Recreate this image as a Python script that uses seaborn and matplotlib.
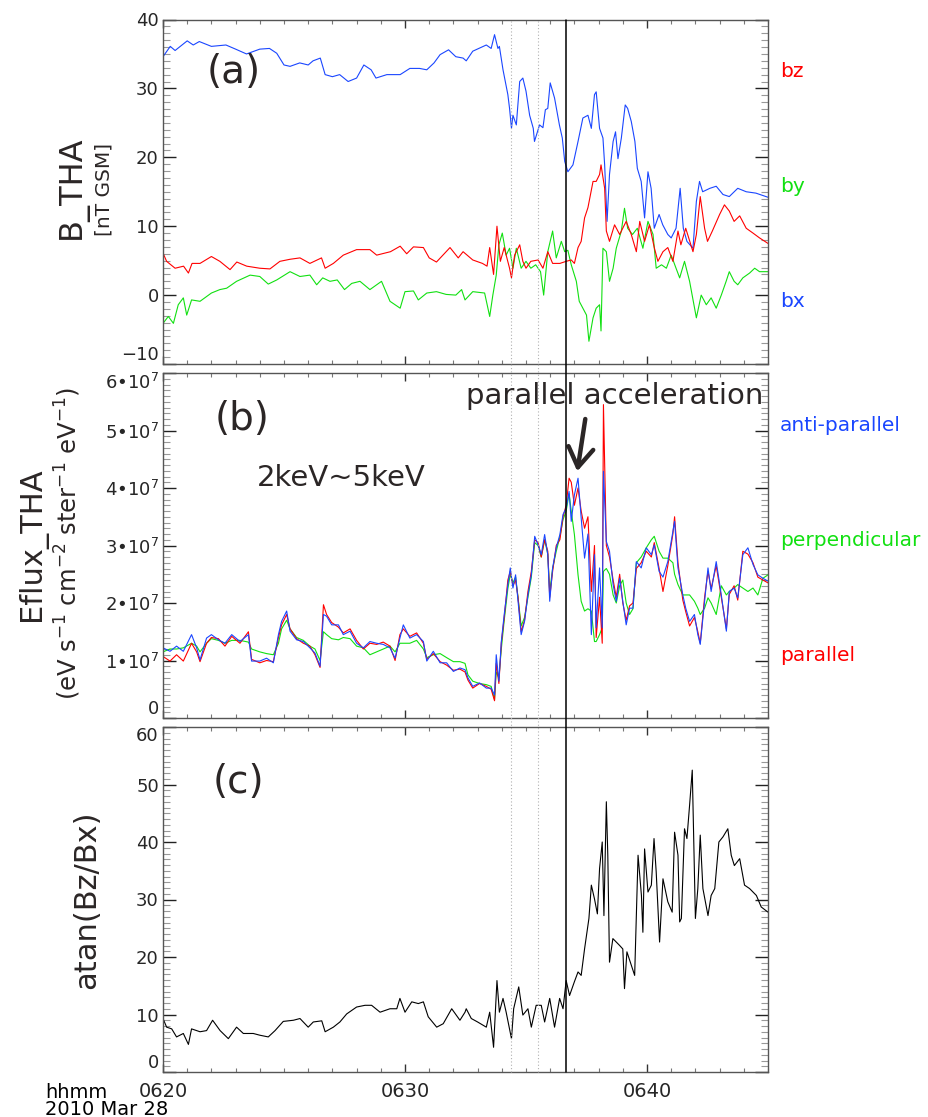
import matplotlib
matplotlib.use("Agg")
import numpy as np
import matplotlib.pyplot as plt
import matplotlib.transforms as mtransforms
from matplotlib.lines import Line2D
from matplotlib.ticker import MultipleLocator, FixedLocator, FixedFormatter
import seaborn as sns

# ---------------- data (minutes after 06:20 UT, 2010 Mar 28) ----------------
t_bx = [0, 0.3, 0.5, 1.0, 1.25, 1.5, 2.0, 2.6, 3.0, 3.45, 4.0, 4.4, 4.7, 5.0, 5.25, 5.65, 6.0, 6.2, 6.5, 6.7,
        7.0, 7.3, 7.65, 8.0, 8.3, 8.6, 8.8, 9.25, 9.8, 10.2, 10.6, 10.9, 11.2, 11.45, 11.8, 12.1, 12.4, 12.53,
        12.8, 13.36, 13.56, 13.7, 13.84, 13.9, 14.05, 14.25, 14.32, 14.4, 14.46, 14.6, 14.74, 14.87, 15.0,
        15.15, 15.3, 15.35, 15.56, 15.7, 15.8, 15.9, 16.0, 16.18, 16.38, 16.5, 16.6, 16.73, 16.94, 17.15,
        17.35, 17.56, 17.7, 17.83, 17.9, 18.04, 18.18, 18.25, 18.35, 18.45, 18.6, 18.7, 18.8, 18.94, 19.1,
        19.2, 19.35, 19.5, 19.6, 19.76, 19.9, 20.04, 20.17, 20.3, 20.5, 20.65, 20.86, 21.0, 21.2, 21.37,
        21.5, 21.65, 21.9, 22.04, 22.17, 22.3, 22.6, 22.86, 23.14, 23.4, 23.75, 24.1, 24.5, 25.0]
bx = [34.6, 36.1, 35.5, 36.9, 36.3, 36.8, 36.1, 36.3, 35.7, 35.0, 35.7, 35.8, 35.1, 33.4, 33.2, 33.7, 33.4, 34.0,
      34.4, 32.0, 31.7, 32.0, 31.0, 31.5, 33.4, 32.7, 31.5, 32.0, 32.0, 32.9, 32.9, 32.7, 33.7, 34.9, 35.6, 34.6,
      34.4, 34.0, 35.4, 36.3, 35.8, 37.8, 35.8, 36.1, 32.7, 29.1, 27.1, 24.2, 26.1, 24.7, 31.0, 31.5, 29.6,
      26.1, 24.2, 22.3, 24.7, 24.3, 26.9, 27.1, 30.8, 28.6, 24.7, 22.8, 19.4, 17.9, 18.9, 22.3,
      25.7, 26.1, 24.2, 29.1, 29.5, 24.2, 22.8, 18.9, 10.7, 17.5, 22.3, 23.7, 19.8, 22.8, 27.6,
      27.1, 25.2, 22.3, 18.4, 16.5, 11.2, 17.9, 15.5, 9.7, 11.7, 10.2, 8.8, 8.3, 9.7, 15.5,
      9.7, 7.8, 6.8, 13.6, 16.5, 15.0, 15.5, 15.8, 14.6, 14.3, 15.5, 15.0, 14.8, 14.2]

t_bz = [0, 0.15, 0.5, 0.85, 1.05, 1.2, 1.53, 2.0, 2.35, 2.77, 3.05, 3.46, 4.0, 4.42, 4.83, 5.25, 5.66, 6.07,
        6.55, 6.7, 7.04, 7.45, 8.0, 8.55, 8.83, 9.4, 9.8, 10.07, 10.35, 10.76, 11.0, 11.3, 11.86, 12.2, 12.4,
        12.8, 13.2, 13.39, 13.5, 13.66, 13.8, 13.94, 14.1, 14.32, 14.4, 14.53, 14.74, 14.87, 15.0, 15.2, 15.5,
        15.7, 15.9, 16.1, 16.4, 16.66, 16.87, 17.0, 17.15, 17.28, 17.42, 17.56, 17.77, 17.9, 18.04, 18.1,
        18.25, 18.32, 18.45, 18.66, 18.87, 19.14, 19.35, 19.56, 19.7, 19.9, 20.1, 20.3, 20.45, 20.66, 20.86,
        21.07, 21.28, 21.4, 21.6, 21.9, 22.04, 22.2, 22.38, 22.5, 22.7, 23.0, 23.2, 23.4, 23.6, 23.83, 24.1,
        24.38, 24.65, 25.0]
bz = [6.1, 4.9, 3.9, 4.2, 3.2, 4.6, 4.6, 5.6, 4.9, 3.7, 4.8, 4.2, 3.9, 3.8, 4.9, 5.2, 5.4, 4.6,
      5.4, 3.9, 4.6, 5.8, 6.6, 6.6, 5.8, 6.3, 7.1, 6.0, 7.0, 6.9, 5.4, 4.8, 6.9, 5.4, 6.3,
      5.1, 4.6, 4.2, 6.9, 3.0, 10.0, 4.9, 6.9, 3.9, 2.5, 5.8, 7.3, 4.9, 3.9, 4.9, 5.1,
      3.9, 6.3, 4.6, 4.6, 4.9, 5.1, 4.6, 6.9, 7.8, 11.2, 12.7, 16.5, 16.5, 17.5, 18.9,
      15.5, 9.3, 7.8, 10.2, 8.8, 10.7, 8.8, 6.3, 10.7, 7.8, 10.2, 6.9, 4.9, 6.3, 6.9,
      4.9, 9.3, 7.3, 9.7, 6.3, 8.8, 14.3, 9.7, 7.8, 9.3, 11.7, 13.1, 12.2, 10.7, 11.5, 9.7,
      9.0, 8.3, 7.5]

t_by = [0, 0.22, 0.43, 0.63, 0.84, 0.98, 1.18, 1.53, 2.0, 2.35, 2.63, 3.04, 3.6, 4.0, 4.35, 4.7, 5.25, 5.66,
        6.07, 6.35, 6.6, 6.9, 7.2, 7.5, 7.8, 8.14, 8.55, 9.03, 9.38, 9.8, 10.0, 10.35, 10.55, 10.9, 11.3, 11.7,
        12.1, 12.34, 12.48, 12.8, 13.29, 13.5, 13.63, 13.77, 13.88, 14.02, 14.18, 14.32, 14.46, 14.6, 14.8,
        15.0, 15.2, 15.4, 15.6, 15.73, 15.9, 16.1, 16.25, 16.46, 16.6, 16.73, 16.87, 17.08, 17.2, 17.35, 17.5,
        17.6, 17.77, 17.9, 18.04, 18.1, 18.18, 18.32, 18.45, 18.6, 18.73, 18.94, 19.07, 19.2, 19.4, 19.6,
        19.83, 20.04, 20.25, 20.38, 20.6, 20.8, 21.0, 21.2, 21.35, 21.55, 21.76, 22.04, 22.24, 22.45, 22.65,
        22.86, 23.07, 23.27, 23.4, 23.6, 23.75, 23.96, 24.24, 24.45, 24.65, 25.0]
by = [-4.1, -3.1, -4.1, -1.4, -0.4, -2.9, -0.7, -0.9, 0.3, 0.8, 1.0, 2.0, 2.9, 2.7, 1.6, 2.2, 3.4, 2.7,
      2.9, 1.5, 2.5, 2.0, 2.2, 0.8, 1.7, 2.0, 0.8, 2.0, -0.9, -1.9, 0.5, 0.6, -0.7, 0.3, 0.5, 0.1,
      0.0, 0.8, -0.7, 0.5, 0.3, -3.1, 0.0, 2.9, 7.3, 9.0, 5.8, 6.8, 3.9, 6.8, 3.9,
      4.9, 3.9, 4.4, 3.4, 0.0, 6.3, 9.3, 5.4, 7.8, 6.3, 6.5, 4.4, 2.0, -0.9, -1.9, -2.9,
      -6.7, -3.3, -1.9, -1.4, -5.2, 6.8, 6.3, 2.0, 3.9, 6.8, 9.3, 12.6, 9.7, 8.8, 9.7,
      6.8, 10.7, 8.8, 3.9, 4.4, 3.9, 5.8, 3.9, 2.5, 4.9, 2.0, -3.3, 0.0, -1.4, -0.4,
      -1.9, 0.0, 2.0, 3.4, 2.0, 1.5, 2.5, 3.2, 3.9, 3.4, 3.4]

# energy flux 2-5 keV, in units of 1e7 eV s-1 cm-2 ster-1 eV-1
FLUX_UNIT = 1e7
t_flux = [0, 0.29, 0.56, 0.84, 1.18, 1.39, 1.53, 1.8, 2.0, 2.29, 2.56, 2.84, 3.18, 3.53, 3.66, 4.0, 4.28,
          4.56, 4.77, 4.9, 5.11, 5.25, 5.52, 5.8, 6.07, 6.28, 6.49, 6.63, 6.76, 6.97, 7.25, 7.45, 7.73, 8.0,
          8.28, 8.55, 8.83, 9.1, 9.38, 9.59, 9.79, 9.93, 10.2, 10.48, 10.76, 10.9, 11.17, 11.45, 11.72, 12.0,
          12.27, 12.48, 12.6, 12.8, 13.08, 13.36, 13.56, 13.7, 13.77, 13.88, 13.98, 14.1, 14.25, 14.35, 14.46,
          14.57, 14.67, 14.8, 14.94, 15.08, 15.22, 15.36, 15.5, 15.63, 15.77, 15.9, 15.98, 16.1, 16.25, 16.4,
          16.53, 16.66, 16.78, 16.87, 17.0, 17.15, 17.28, 17.42, 17.56, 17.7, 17.83, 17.9, 18.04, 18.15, 18.2,
          18.32, 18.45, 18.6, 18.73, 18.87, 19.0, 19.14, 19.28, 19.42, 19.56, 19.76, 19.97, 20.18, 20.3, 20.5,
          20.66, 20.86, 21.07, 21.14, 21.28, 21.48, 21.6, 21.76, 21.96, 22.1, 22.2, 22.38, 22.52, 22.65, 22.86,
          23.07, 23.28, 23.4, 23.6, 23.75, 23.96, 24.17, 24.38, 24.58, 24.79, 25.0]
flux_anti = [1.22, 1.16, 1.25, 1.16, 1.45, 1.22, 1.01, 1.39, 1.45, 1.36, 1.30, 1.45, 1.33, 1.45, 0.99, 0.99, 1.04,
             0.96, 1.45, 1.68, 1.86, 1.51, 1.36, 1.33, 1.22, 1.13, 0.90, 1.80, 1.77, 1.62, 1.62, 1.45, 1.51, 1.30,
             1.22, 1.33, 1.30, 1.28, 1.22, 1.04, 1.39, 1.62, 1.39, 1.45, 1.33, 0.99, 1.16, 0.96, 0.96, 0.81,
             0.87, 0.84, 0.70, 0.55, 0.61, 0.52, 0.52, 0.40, 1.10, 0.64, 1.33, 1.80, 2.32, 2.61, 2.26,
             2.49, 2.03, 1.45, 1.68, 2.14, 2.49, 3.16, 3.01, 2.84, 3.19, 2.84, 2.03, 2.61, 2.96, 3.19,
             3.54, 3.65, 3.94, 3.42, 3.88, 4.17, 3.48, 2.78, 3.20, 1.45, 2.84, 1.57, 2.61, 1.57, 4.29,
             3.07, 2.90, 2.32, 2.03, 2.43, 2.03, 1.62, 1.91, 1.91, 2.72, 2.61, 2.96, 2.84, 3.01, 2.55,
             2.45, 2.72, 3.25, 3.42, 2.61, 2.14, 1.91, 1.68, 1.80, 1.45, 1.28, 2.03, 2.61, 2.20, 2.72,
             2.14, 1.51, 2.20, 2.26, 2.09, 2.84, 2.96, 2.67, 2.49, 2.43, 2.38]
flux_par = [1.07, 0.99, 1.10, 0.99, 1.30, 1.15, 0.98, 1.30, 1.40, 1.38, 1.25, 1.42, 1.30, 1.50, 1.02, 0.96, 1.00,
            0.98, 1.40, 1.62, 1.80, 1.55, 1.38, 1.30, 1.25, 1.10, 0.88, 1.97, 1.80, 1.66, 1.58, 1.48, 1.55, 1.35,
            1.20, 1.30, 1.28, 1.32, 1.25, 1.00, 1.45, 1.55, 1.42, 1.48, 1.30, 1.02, 1.12, 0.98, 0.92, 0.83,
            0.85, 0.80, 0.66, 0.52, 0.60, 0.55, 0.50, 0.30, 0.95, 0.60, 1.30, 1.75, 2.40, 2.55, 2.30,
            2.40, 2.10, 1.50, 1.70, 2.20, 2.55, 3.10, 3.05, 2.80, 3.10, 2.90, 2.10, 2.55, 3.00, 3.10,
            3.50, 3.70, 4.17, 4.10, 3.70, 4.00, 3.60, 3.30, 3.50, 2.20, 3.00, 1.40, 2.10, 1.30, 5.45,
            3.00, 2.80, 2.40, 2.10, 2.50, 2.00, 1.70, 1.95, 2.00, 2.60, 2.70, 2.90, 2.80, 3.05, 2.60,
            2.20, 2.65, 3.20, 3.50, 2.70, 2.05, 1.85, 1.60, 1.75, 1.50, 1.30, 2.10, 2.55, 2.25, 2.65,
            2.10, 1.55, 2.15, 2.30, 2.05, 2.90, 2.85, 2.70, 2.45, 2.40, 2.35]
flux_perp = [1.15, 1.20, 1.20, 1.22, 1.30, 1.25, 1.15, 1.30, 1.38, 1.35, 1.30, 1.35, 1.35, 1.32, 1.20, 1.15, 1.12,
             1.10, 1.30, 1.55, 1.70, 1.55, 1.40, 1.35, 1.25, 1.20, 1.00, 1.50, 1.45, 1.38, 1.36, 1.40, 1.38, 1.25,
             1.22, 1.10, 1.15, 1.20, 1.25, 1.15, 1.30, 1.30, 1.30, 1.35, 1.20, 1.05, 1.10, 1.12, 1.05, 0.98,
             0.98, 0.95, 0.75, 0.64, 0.60, 0.58, 0.55, 0.32, 0.80, 0.70, 1.20, 1.70, 2.25, 2.50, 2.35,
             2.45, 2.10, 1.60, 1.75, 2.10, 2.45, 3.05, 3.00, 2.80, 3.10, 2.85, 2.20, 2.60, 2.90, 3.15,
             3.45, 3.60, 3.90, 3.60, 3.19, 2.49, 2.03, 1.86, 1.90, 1.86, 1.33, 1.33, 1.45, 1.57, 2.55,
             2.60, 2.50, 2.14, 2.00, 2.30, 2.40, 2.00, 1.80, 1.90, 2.70, 2.80, 2.96, 3.10, 3.16, 2.90,
             2.78, 2.78, 2.70, 2.50, 2.32, 2.14, 2.14, 2.14, 2.03, 1.91, 1.80, 1.91, 2.09, 2.00, 1.80,
             2.30, 2.14, 2.20, 2.26, 2.32, 2.26, 2.20, 2.26, 2.14, 2.43, 2.49]

t_ang = [0, 0.15, 0.36, 0.56, 0.84, 1.05, 1.18, 1.53, 1.8, 2.05, 2.36, 2.7, 3.04, 3.32, 3.73, 4.0, 4.35, 4.63,
         4.97, 5.39, 5.66, 6.0, 6.21, 6.56, 6.7, 7.04, 7.31, 7.59, 8.0, 8.35, 8.62, 8.97, 9.38, 9.66, 9.79, 10.0,
         10.28, 10.55, 10.76, 10.96, 11.31, 11.58, 11.93, 12.27, 12.48, 12.53, 12.74, 13.0, 13.36, 13.5, 13.66,
         13.8, 13.9, 14.05, 14.18, 14.4, 14.49, 14.7, 14.87, 15.08, 15.22, 15.42, 15.63, 15.77, 15.98, 16.18,
         16.39, 16.53, 16.66, 16.8, 17.0, 17.15, 17.28, 17.42, 17.6, 17.7, 17.83, 17.95, 18.04, 18.15, 18.22,
         18.32, 18.38, 18.45, 18.59, 18.73, 18.87, 19.0, 19.07, 19.17, 19.35, 19.49, 19.63, 19.77, 19.83, 19.9,
         20.04, 20.18, 20.29, 20.38, 20.52, 20.66, 20.86, 21.04, 21.14, 21.28, 21.35, 21.42, 21.55, 21.65,
         21.76, 21.87, 22.0, 22.1, 22.2, 22.31, 22.52, 22.65, 22.8, 22.97, 23.14, 23.34, 23.48, 23.61, 23.83,
         24.03, 24.24, 24.52, 24.72, 25.0]
ang = [9.3, 7.8, 7.5, 6.1, 6.7, 4.8, 7.5, 7.0, 7.2, 9.0, 7.2, 5.8, 7.8, 6.7, 6.7, 6.4, 6.1, 7.2,
       8.8, 9.0, 9.3, 7.8, 8.7, 8.9, 7.0, 7.8, 8.7, 10.1, 11.3, 11.6, 11.6, 10.4, 11.0, 11.0, 12.8, 10.4,
       12.2, 11.9, 12.2, 9.6, 7.8, 8.4, 11.0, 9.0, 10.4, 11.0, 9.3, 8.7, 7.8, 10.4, 4.3,
       15.9, 10.4, 12.8, 10.4, 5.8, 11.0, 14.8, 9.9, 11.0, 7.8, 11.6, 11.6, 8.7, 12.8, 7.8,
       12.8, 11.0, 15.9, 13.3, 15.7, 17.4, 16.8, 21.4, 26.7, 32.5, 30.1, 27.5, 35.4, 40.0, 27.2,
       47.0, 37.7, 19.1, 23.2, 22.6, 22.0, 21.4, 14.5, 20.9, 18.6, 16.8, 37.7, 30.7, 24.3, 38.8,
       31.3, 32.5, 40.6, 34.8, 22.6, 33.6, 29.6, 27.8, 41.7, 37.7, 26.1, 26.7, 42.3, 40.6,
       46.4, 52.5, 26.7, 31.9, 41.2, 31.9, 27.2, 30.7, 31.9, 40.0, 40.9, 42.3, 37.7, 35.9, 37.1,
       32.5, 31.9, 30.7, 28.7, 27.8]

event_dotted = [14.39, 15.48]
event_solid = 16.67

x_tick_pos = [0, 10, 20]
x_tick_lab = ["0620", "0630", "0640"]
flux_tick_pos = [0, 1, 2, 3, 4, 5, 6]
flux_tick_lab = ["0"] + [f"{k}\u202210$^{{7}}$" for k in range(1, 7)]

# ---------------- style ----------------
sns.set_style("ticks")
plt.rcParams["font.family"] = ["DejaVu Sans"]
plt.rcParams["mathtext.fontset"] = "dejavusans"

C_RED, C_GREEN, C_BLUE = "#ff0000", "#11e011", "#1a46ff"
TXT = "#2b2626"
W, H = 929, 1117

fig = plt.figure(figsize=(W / 100, H / 100), dpi=100)


def box(top, bottom):
    return [163 / W, 1 - bottom / H, 605 / W, (bottom - top) / H]


ax_a = fig.add_axes(box(19.5, 364))
ax_b = fig.add_axes(box(373, 718))
ax_c = fig.add_axes(box(727, 1072))

LW = 0.8
sns.lineplot(x=t_bx, y=bx, ax=ax_a, color=C_BLUE, lw=LW, estimator=None, sort=False)
sns.lineplot(x=t_by, y=by, ax=ax_a, color=C_GREEN, lw=LW, estimator=None, sort=False)
sns.lineplot(x=t_bz, y=bz, ax=ax_a, color=C_RED, lw=LW, estimator=None, sort=False)

tf = np.array(t_flux)
sns.lineplot(x=tf, y=np.array(flux_perp) * FLUX_UNIT, ax=ax_b, color=C_GREEN, lw=LW, estimator=None, sort=False)
sns.lineplot(x=tf, y=np.array(flux_par) * FLUX_UNIT, ax=ax_b, color=C_RED, lw=LW, estimator=None, sort=False)
sns.lineplot(x=tf, y=np.array(flux_anti) * FLUX_UNIT, ax=ax_b, color=C_BLUE, lw=LW, estimator=None, sort=False)

sns.lineplot(x=t_ang, y=ang, ax=ax_c, color="black", lw=LW, estimator=None, sort=False)

for ax in (ax_a, ax_b, ax_c):
    ax.set_xlim(0, 25)
    ax.xaxis.set_major_locator(FixedLocator(x_tick_pos))
    ax.xaxis.set_minor_locator(MultipleLocator(1))
    ax.set_xlabel("")
    ax.set_ylabel("")
    for s in ax.spines.values():
        s.set_visible(True)
        s.set_color("#555555")
        s.set_linewidth(1.0)
    ax.tick_params(axis="x", which="major", direction="in", top=True, bottom=True, length=5.5, width=1.0,
                   color="#333333", labelsize=14, pad=7)
    ax.tick_params(axis="x", which="minor", direction="in", top=True, bottom=True, length=3.2, width=0.8,
                   color="#777777")
    ax.tick_params(axis="y", which="major", direction="in", left=True, right=True, length=9.5, width=1.0,
                   color="#222222", labelsize=13, pad=3)
    ax.tick_params(axis="y", which="minor", direction="in", left=True, right=True, length=5, width=0.8,
                   color="#999999")
    if ax is not ax_c:
        ax.tick_params(axis="x", labelbottom=False)

ax_c.set_xticklabels(x_tick_lab)

ax_a.set_ylim(-10, 40)
ax_a.yaxis.set_major_locator(MultipleLocator(10))
ax_a.yaxis.set_minor_locator(MultipleLocator(1))

ax_b.set_ylim(0, 6 * FLUX_UNIT)
ax_b.yaxis.set_major_locator(FixedLocator([v * FLUX_UNIT for v in flux_tick_pos]))
ax_b.yaxis.set_major_formatter(FixedFormatter(flux_tick_lab))
ax_b.yaxis.set_minor_locator(MultipleLocator(0.1 * FLUX_UNIT))

ax_c.set_ylim(0, 60)
ax_c.yaxis.set_major_locator(MultipleLocator(10))
ax_c.yaxis.set_minor_locator(MultipleLocator(1))

# IDL-like placement: lowest tick label sits above the axis, top label below it (panels b, c)
fig.canvas.draw()
for ax, shift_top in ((ax_a, False), (ax_b, True), (ax_c, True)):
    ticks = [tk for tk in ax.yaxis.get_major_ticks()
             if ax.get_ylim()[0] - 1e-9 <= tk.get_loc() <= ax.get_ylim()[1] + 1e-9]
    ticks[0].label1.set_va("bottom")
    if shift_top:
        ticks[-1].label1.set_va("top")

# event lines spanning all three panels
blend = mtransforms.blended_transform_factory(ax_c.transData, fig.transFigure)
y_bot, y_top = 1 - 1072 / H, 1 - 19.5 / H
for te in event_dotted:
    fig.add_artist(Line2D([te, te], [y_bot, y_top], transform=blend, color="#b0b0b0", lw=0.8, ls=(0, (1, 2))))
fig.add_artist(Line2D([event_solid, event_solid], [y_bot, y_top], transform=blend, color="black", lw=1.1))

# panel labels and annotations
fig.text(207 / W, 1 - 72 / H, "(a)", fontsize=28, color=TXT, va="center", ha="left")
fig.text(215 / W, 1 - 419 / H, "(b)", fontsize=28, color=TXT, va="center", ha="left")
fig.text(213 / W, 1 - 782 / H, "(c)", fontsize=28, color=TXT, va="center", ha="left")
fig.text(257 / W, 1 - 486 / H, "2keV~5keV", fontsize=21, color=TXT, va="baseline", ha="left")
fig.text(466 / W, 1 - 404 / H, "parallel acceleration", fontsize=21, color=TXT, va="baseline", ha="left")
ax_b.annotate("", xy=(17.12, 4.29 * FLUX_UNIT), xytext=(17.45, 5.2 * FLUX_UNIT),
              arrowprops=dict(arrowstyle="->,head_length=0.7,head_width=0.45", lw=3.2, color=TXT,
                              mutation_scale=20, shrinkA=0, shrinkB=0))

# right-side legends
for lab, col, yb in [("bz", C_RED, 76.7), ("by", C_GREEN, 191.7), ("bx", C_BLUE, 306.7),
                     ("anti-parallel", C_BLUE, 431), ("perpendicular", C_GREEN, 546), ("parallel", C_RED, 661)]:
    fig.text(780 / W, 1 - yb / H, lab, color=col, fontsize=14.5, va="baseline", ha="left")

# y labels
fig.text(72 / W, 1 - 187 / H, "B_THA", fontsize=23, rotation=90, va="center", ha="center", color=TXT)
fig.text(104 / W, 1 - 189 / H, "[nT GSM]", fontsize=14.5, rotation=90, va="center", ha="center", color=TXT)
fig.text(32 / W, 1 - 544 / H, "Eflux_THA", fontsize=22, rotation=90, va="center", ha="center", color=TXT)
fig.text(68 / W, 1 - 543 / H, r"(eV s$^{-1}$ cm$^{-2}$ ster$^{-1}$ eV$^{-1}$)", fontsize=17.5, rotation=90,
         va="center", ha="center", color=TXT)
fig.text(87 / W, 1 - 900 / H, "atan(Bz/Bx)", fontsize=22, rotation=90, va="center", ha="center", color=TXT)

# time axis caption
fig.text(45 / W, 1 - 1083 / H, "hhmm", fontsize=14, va="top", ha="left", color="black")
fig.text(45 / W, 1 - 1100 / H, "2010 Mar 28", fontsize=14, va="top", ha="left", color="black")

fig.savefig("out.png", dpi=100)
